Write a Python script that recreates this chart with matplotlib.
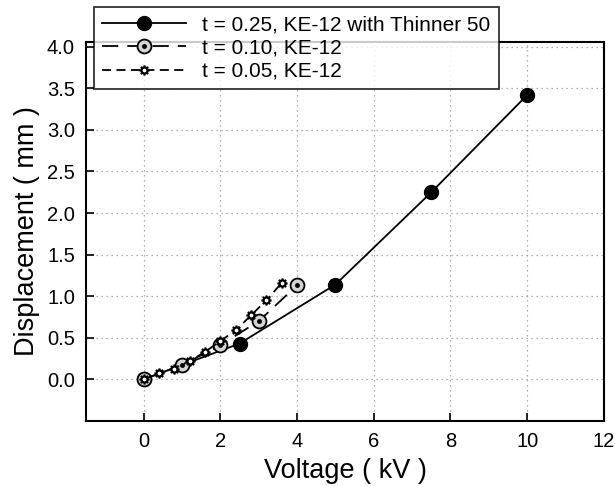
import matplotlib
matplotlib.use('Agg')
import matplotlib.pyplot as plt

plt.rcParams['font.family'] = ['Liberation Sans', 'DejaVu Sans']

# t = 0.25, KE-12 with Thinner 50
v1 = [0, 2.5, 5, 7.5, 10]
d1 = [0, 0.43, 1.14, 2.25, 3.42]
# t = 0.10, KE-12
v2 = [0, 1, 2, 3, 4]
d2 = [0, 0.17, 0.41, 0.70, 1.13]
# t = 0.05, KE-12
v3 = [0, 0.4, 0.8, 1.2, 1.6, 2.0, 2.4, 2.8, 3.2, 3.6]
d3 = [0, 0.07, 0.13, 0.22, 0.33, 0.46, 0.59, 0.77, 0.95, 1.16]

labels = ['t = 0.25, KE-12 with Thinner 50', 't = 0.10, KE-12', 't = 0.05, KE-12']
xticks = [0, 2, 4, 6, 8, 10, 12]
yticks = [0.0, 0.5, 1.0, 1.5, 2.0, 2.5, 3.0, 3.5, 4.0]

fig = plt.figure(figsize=(6.15, 4.86), dpi=100)
ax = fig.add_axes([0.14, 0.134, 0.842, 0.78])

l1, = ax.plot(v1, d1, '-', color='black', lw=1.3, marker='o', ms=10,
              mfc='black', mec='black', zorder=3)
l2, = ax.plot(v2, d2, color='black', lw=1.3, dashes=(9, 5), marker='o', ms=10,
              mfc='#d3d3d3', mec='black', mew=1.3, zorder=4)
p2, = ax.plot(v2, d2, ls='none', marker='o', ms=2.5, color='black', zorder=5)
l3, = ax.plot(v3, d3, color='black', lw=1.3, dashes=(5, 3), marker=(8, 1, 0), ms=7,
              mfc='white', mec='black', mew=1.3, zorder=6)

ax.set_xlim(-1.5, 12)
ax.set_ylim(-0.5, 4.06)
ax.set_xticks(xticks)
ax.set_yticks(yticks)
ax.set_yticklabels(['%.1f' % y for y in yticks])
ax.tick_params(direction='in', length=6, width=1.2, labelsize=14.5, pad=8)
ax.grid(True, ls=(0, (1, 3)), color='#999999', lw=0.9)
for s in ax.spines.values():
    s.set_linewidth(1.5)

ax.set_xlabel('Voltage ( kV )', fontsize=19.5, labelpad=5)
ax.set_ylabel('Displacement ( mm )', fontsize=19.5, labelpad=5)

leg = fig.legend([l1, (l2, p2), l3], labels, loc='upper left',
                 bbox_to_anchor=(0.153, 0.985), fontsize=15, handlelength=4.0,
                 frameon=True, fancybox=False, borderpad=0.4, labelspacing=0.2,
                 handletextpad=0.8, borderaxespad=0)
leg.get_frame().set_edgecolor('black')
leg.get_frame().set_linewidth(1.3)
leg.set_zorder(10)

fig.savefig('out.png', dpi=100)
